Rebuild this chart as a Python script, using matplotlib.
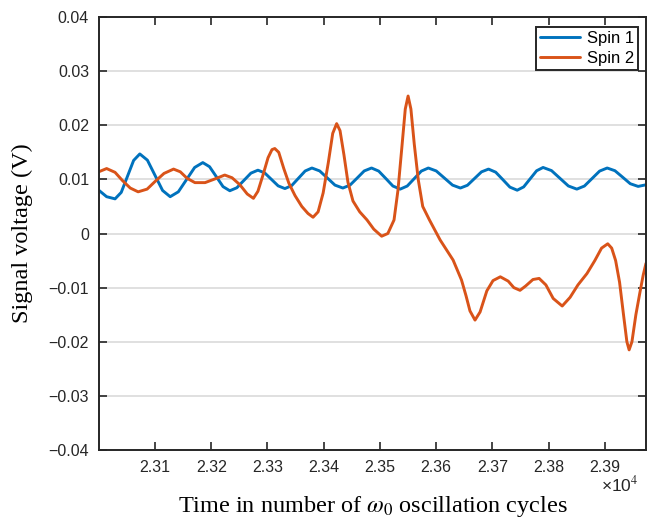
import matplotlib
matplotlib.use("Agg")
import matplotlib.pyplot as plt
from matplotlib.ticker import FixedLocator

plt.rcParams["mathtext.fontset"] = "stix"

# ---- data ----
spin1_t = [23000, 23014, 23029, 23040, 23051, 23062, 23073, 23086.5, 23100, 23113.5,
           23127, 23141.5, 23156, 23170.5, 23185, 23197, 23209, 23221, 23233,
           23245.5, 23258, 23270.5, 23283, 23295, 23307, 23319, 23331, 23343,
           23355, 23367, 23379, 23392.75, 23406.5, 23420, 23434, 23446.75,
           23459.5, 23472, 23485, 23497.75, 23510.5, 23523, 23536, 23548.5,
           23561, 23573.5, 23586, 23600, 23614.5, 23629, 23643, 23655.5, 23668,
           23680.5, 23693, 23705.75, 23718.5, 23731, 23744, 23755.5, 23767,
           23778.5, 23790, 23805, 23820, 23835, 23850, 23863.5, 23877, 23890.5,
           23904, 23917.75, 23931.5, 23945, 23959, 23973]
spin1_v = [0.0080, 0.0068, 0.0064, 0.0076, 0.01055, 0.0135, 0.0147, 0.01355, 0.01075,
           0.00795, 0.0068, 0.0077, 0.00995, 0.0122, 0.0131, 0.01234, 0.0105,
           0.00866, 0.0079, 0.00845, 0.0098, 0.01115, 0.0117, 0.0112, 0.0100,
           0.0088, 0.0083, 0.00885, 0.0102, 0.01155, 0.0121, 0.01156, 0.01025,
           0.00894, 0.0084, 0.00894, 0.01025, 0.01156, 0.0121, 0.01153, 0.01015,
           0.00877, 0.0082, 0.00877, 0.01015, 0.01153, 0.0121, 0.01156, 0.01025,
           0.00894, 0.0084, 0.00891, 0.01015, 0.01139, 0.0119, 0.01133, 0.00995,
           0.00857, 0.0080, 0.00861, 0.0101, 0.01159, 0.0122, 0.01162, 0.0102,
           0.00878, 0.0082, 0.00877, 0.01015, 0.01153, 0.0121, 0.0116, 0.0104,
           0.0092, 0.0087, 0.0090]

spin2_t = [23000, 23014, 23029, 23042, 23056, 23070, 23086, 23100, 23116, 23133,
           23145, 23157, 23171, 23189, 23207, 23224, 23237, 23251, 23264, 23275,
           23283, 23292, 23301, 23308, 23313, 23320, 23329, 23338, 23349, 23361,
           23372, 23381, 23390, 23399, 23408, 23416, 23423, 23429, 23436, 23443,
           23452, 23464, 23477, 23489, 23503, 23514, 23525, 23532, 23539, 23545,
           23550, 23555, 23561, 23568, 23576, 23588, 23607, 23630, 23645, 23653,
           23660, 23669, 23678, 23690, 23701, 23714, 23728, 23738, 23749, 23759,
           23772, 23783, 23795, 23808, 23824, 23838, 23852, 23868, 23882, 23894,
           23905, 23912, 23919, 23926, 23933, 23939, 23943, 23948, 23955, 23962,
           23968, 23973]
spin2_v = [0.0114, 0.0120, 0.0113, 0.0098, 0.0084, 0.0077, 0.0082, 0.0096, 0.0111,
           0.0119, 0.0114, 0.0102, 0.0094, 0.0094, 0.0101, 0.0108, 0.0103, 0.0090,
           0.0073, 0.0065, 0.0078, 0.0108, 0.0140, 0.0155, 0.0157, 0.0150, 0.0120,
           0.0093, 0.0070, 0.0050, 0.0037, 0.0030, 0.0040, 0.0075, 0.0130, 0.0185,
           0.0203, 0.0190, 0.0145, 0.0095, 0.0060, 0.0040, 0.0025, 0.0008, -0.0005,
           0.0000, 0.0025, 0.0080, 0.0160, 0.0230, 0.0254, 0.0230, 0.0165, 0.0100,
           0.0050, 0.0025, -0.0012, -0.0049, -0.0086, -0.0115, -0.0143, -0.0160,
           -0.0145, -0.0106, -0.0087, -0.0080, -0.0088, -0.0100, -0.0105, -0.0097,
           -0.0085, -0.0083, -0.0095, -0.0120, -0.0134, -0.0118, -0.0095, -0.0074,
           -0.0050, -0.0027, -0.0019, -0.0027, -0.0050, -0.0090, -0.0150, -0.0200,
           -0.0215, -0.0200, -0.0150, -0.0110, -0.0077, -0.0055]

x_ticks = [23100, 23200, 23300, 23400, 23500, 23600, 23700, 23800, 23900]
x_ticklabels = ["2.31", "2.32", "2.33", "2.34", "2.35", "2.36", "2.37", "2.38", "2.39"]
y_ticks = [-0.04, -0.03, -0.02, -0.01, 0, 0.01, 0.02, 0.03, 0.04]
y_ticklabels = ["-0.04", "-0.03", "-0.02", "-0.01", "0", "0.01", "0.02", "0.03", "0.04"]
series_names = ["Spin 1", "Spin 2"]

# ---- figure ----
fig = plt.figure(figsize=(6.47, 5.19), dpi=100)
W, H = 647, 519
left, right, top, bottom = 98.75, 646, 17, 450
ax = fig.add_axes([left / W, 1 - bottom / H, (right - left) / W, (bottom - top) / H])

sans = ["Liberation Sans", "DejaVu Sans"]
serif = ["Liberation Serif", "DejaVu Serif"]

ax.plot(spin1_t, spin1_v, color="#0072BD", lw=2.1, label=series_names[0],
        solid_joinstyle="round", solid_capstyle="round")
ax.plot(spin2_t, spin2_v, color="#D95319", lw=2.1, label=series_names[1],
        solid_joinstyle="round", solid_capstyle="round")

ax.set_xlim(23000, 23973)
ax.set_ylim(-0.04, 0.04)
ax.xaxis.set_major_locator(FixedLocator(x_ticks))
ax.set_xticklabels(x_ticklabels, family=sans, fontsize=11.5)
ax.yaxis.set_major_locator(FixedLocator(y_ticks))
ax.set_yticklabels([t.replace("-", "\u2212") for t in y_ticklabels], family=sans, fontsize=11.5)

ax.tick_params(direction="in", length=6, width=1.2, top=True, right=True,
               colors="#262626", labelcolor="#262626", pad=7)
for s in ax.spines.values():
    s.set_linewidth(1.4)
    s.set_color("#262626")

ax.yaxis.grid(True, color="#e0e0e0", lw=1.4)
ax.set_axisbelow(True)

ax.set_xlabel(r"Time in number of $\omega_0$ oscillation cycles", family=serif,
              fontsize=17.5, labelpad=14)
ax.set_ylabel("Signal voltage (V)", family=serif, fontsize=17.5, labelpad=11)

fig.text(601 / W, 1 - 484 / H, "\u00d710$^{4}$", family=sans, fontsize=12.5,
         color="#262626", va="center", ha="left")

leg = ax.legend(loc="upper right", bbox_to_anchor=(1 - 8 / (right - left), 1 - 10 / (bottom - top)),
                borderaxespad=0, fancybox=False, framealpha=1, edgecolor="#262626",
                prop={"family": sans, "size": 12}, handlelength=2.4,
                borderpad=0.25, labelspacing=0.3, handletextpad=0.4)
leg.get_frame().set_linewidth(1.4)

fig.savefig("out.png", dpi=100)
